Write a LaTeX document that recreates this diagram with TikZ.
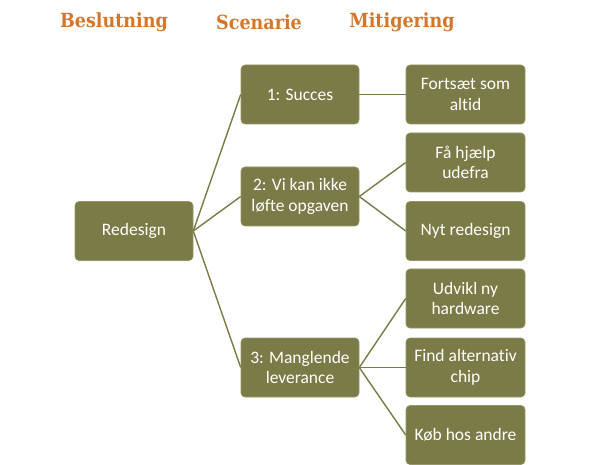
\documentclass[tikz,border=0pt]{standalone}
\usepackage{fontspec}
\setmainfont{Carlito}[Ligatures=NoCommon]
\newfontfamily\headfont{DejaVu Serif Condensed}
\definecolor{olive}{RGB}{123,123,72}
\definecolor{oliveedge}{RGB}{150,150,105}
\definecolor{headorange}{RGB}{213,119,43}
\begin{document}
\begin{tikzpicture}[x=1pt,y=-1pt,
  box/.style={draw=oliveedge, line width=0.6pt, fill=olive, rounded corners=4pt,
    minimum width=118pt, minimum height=59pt, text=white, align=center,
    font=\fontsize{17.5}{20.5}\selectfont, inner sep=2pt},
  mbox/.style={box, minimum width=119pt},
  head/.style={text=headorange, font=\headfont\bfseries\fontsize{19.5}{22}\selectfont},
  link/.style={draw=olive, line width=1.4pt}]
\useasboundingbox (0,0) rectangle (600,465);
\node[head] (h1) at (114,22) {Beslutning};
\node[head] (h2) at (259,22) {Scenarie};
\node[head] (h3) at (402,22) {Mitigering};
\node[box] (r) at (134,231) {Redesign};
\node[box] (s1) at (300,94.5) {1: Succes};
\node[box] (s2) at (300,196.5) {2: Vi kan ikke\\løfte opgaven};
\node[box] (s3) at (300,367.5) {3: Manglende\\leverance};
\node[mbox] (m1) at (465.5,94.5) {Fortsæt som\\altid};
\node[mbox] (m2) at (465.5,162.5) {Få hjælp\\udefra};
\node[mbox] (m3) at (465.5,231) {Nyt redesign};
\node[mbox] (m4) at (465.5,298.5) {Udvikl ny\\hardware};
\node[mbox] (m5) at (465.5,367.5) {Find alternativ\\chip};
\node[mbox] (m6) at (465.5,435) {Køb hos andre};
\draw[link] (r.east) -- (s1.west);
\draw[link] (r.east) -- (s2.west);
\draw[link] (r.east) -- (s3.west);
\draw[link] (s1.east) -- (m1.west);
\draw[link] (s2.east) -- (m2.west);
\draw[link] (s2.east) -- (m3.west);
\draw[link] (s3.east) -- (m4.west);
\draw[link] (s3.east) -- (m5.west);
\draw[link] (s3.east) -- (m6.west);
\end{tikzpicture}
\end{document}
